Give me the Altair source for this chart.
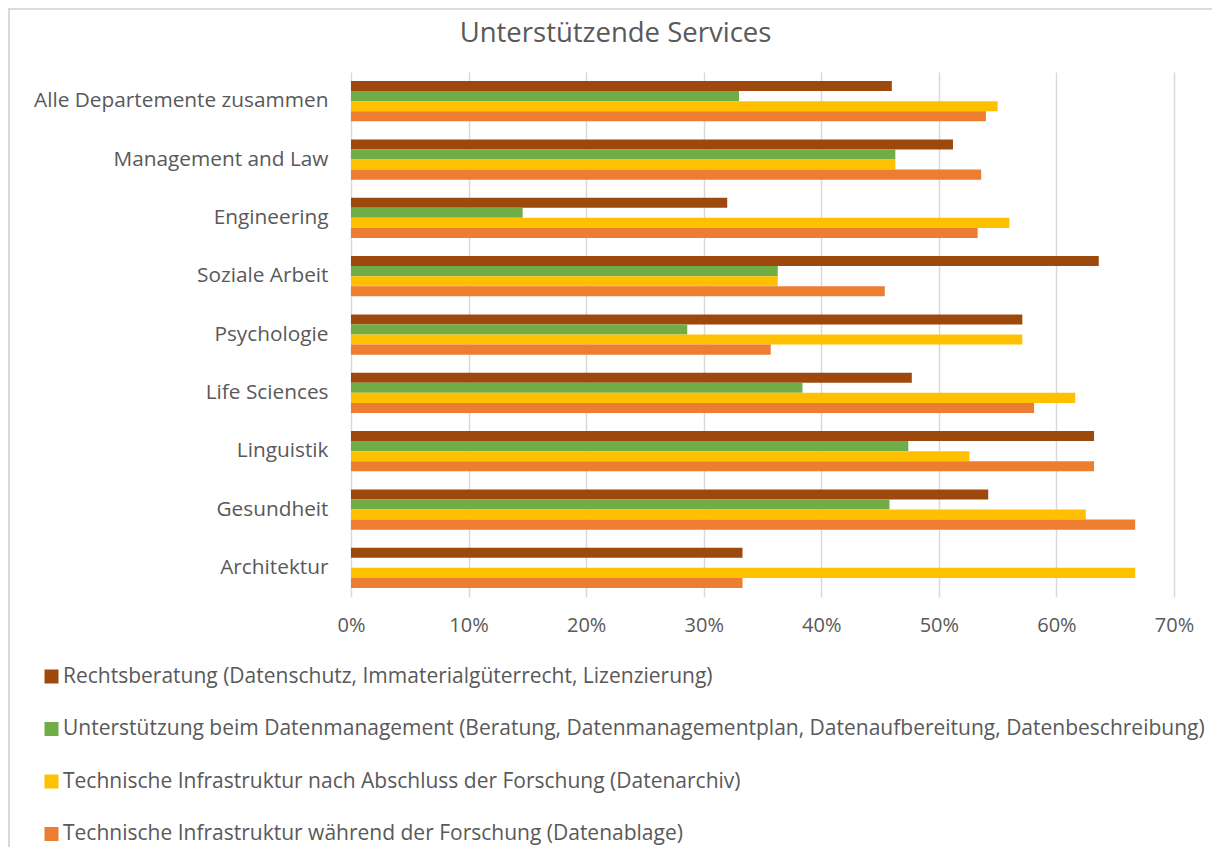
import altair as alt
import pandas as pd

categories = [
    "Alle Departemente zusammen",
    "Management and Law",
    "Engineering",
    "Soziale Arbeit",
    "Psychologie",
    "Life Sciences",
    "Linguistik",
    "Gesundheit",
    "Architektur",
]

series = [
    "Rechtsberatung (Datenschutz, Immaterialgüterrecht, Lizenzierung)",
    "Unterstützung beim Datenmanagement (Beratung, Datenmanagementplan, Datenaufbereitung, Datenbeschreibung)",
    "Technische Infrastruktur nach Abschluss der Forschung (Datenarchiv)",
    "Technische Infrastruktur während der Forschung (Datenablage)",
]

colors = ["#9E480E", "#70AD47", "#FFC000", "#ED7D31"]

rechtsberatung = [0.460, 0.512, 0.320, 0.636, 0.571, 0.477, 0.632, 0.542, 0.333]
datenmanagement = [0.330, 0.463, 0.146, 0.363, 0.286, 0.384, 0.474, 0.458, 0.0]
datenarchiv = [0.550, 0.463, 0.560, 0.363, 0.571, 0.616, 0.526, 0.625, 0.667]
datenablage = [0.540, 0.536, 0.533, 0.454, 0.357, 0.581, 0.632, 0.667, 0.333]

x_ticks = [0, 0.1, 0.2, 0.3, 0.4, 0.5, 0.6, 0.7]

rows = []
for values, s in zip([rechtsberatung, datenmanagement, datenarchiv, datenablage], series):
    for c, v in zip(categories, values):
        rows.append({"Kategorie": c, "Serie": s, "Wert": v})
df = pd.DataFrame(rows)

FONT = "Open Sans"
GREY = "#595959"

bars = alt.Chart(df).mark_bar().encode(
    y=alt.Y(
        "Kategorie:N",
        sort=categories,
        scale=alt.Scale(paddingInner=0.31, paddingOuter=0.155),
        axis=alt.Axis(
            title=None, ticks=False, domain=False, labelFontSize=20.8,
            labelColor=GREY, labelFont=FONT, labelPadding=23, labelLimit=400,
        ),
    ),
    yOffset=alt.YOffset("Serie:N", sort=series, scale=alt.Scale(padding=0, paddingInner=0, paddingOuter=0)),
    x=alt.X(
        "Wert:Q",
        scale=alt.Scale(domain=[0, 0.7], nice=False),
        axis=alt.Axis(
            title=None, format=".0%", values=x_ticks, ticks=False, domain=False,
            labelFontSize=20, labelColor=GREY, labelFont=FONT, labelPadding=18,
            labelFlush=False, gridColor="#d9d9d9", gridWidth=1.5,
        ),
    ),
    color=alt.Color(
        "Serie:N",
        sort=series,
        scale=alt.Scale(domain=series, range=colors),
        legend=alt.Legend(
            title=None, orient="none", legendX=-310, legendY=594,
            direction="vertical", symbolType="square", symbolSize=196,
            symbolStrokeWidth=0, labelFontSize=21, labelColor=GREY, labelFont=FONT,
            labelOffset=1, rowPadding=30.5, labelLimit=1200,
        ),
    ),
)

frame_top = alt.Chart(df).mark_rule(color="#d9d9d9", strokeWidth=1.5).encode(
    x=alt.value(-342), x2=alt.value(870), y=alt.value(-63.5)
)
frame_left = alt.Chart(df).mark_rule(color="#d9d9d9", strokeWidth=1.5).encode(
    x=alt.value(-342), y=alt.value(-63.5), y2=alt.value(790)
)

chart = alt.layer(frame_top, frame_left, bars).properties(
    width=823,
    height=525,
    padding={"left": 343, "top": 64, "right": 38, "bottom": 250},
    autosize=alt.AutoSizeParams(type="none"),
    title=alt.TitleParams(
        "Unterstützende Services", fontSize=27.5, font=FONT, fontWeight="normal",
        color=GREY, anchor="middle", dx=-147, dy=40, offset=0,
    ),
).configure_view(stroke=None)

chart.save("out.html", embed_options={"renderer": "svg", "actions": False})
